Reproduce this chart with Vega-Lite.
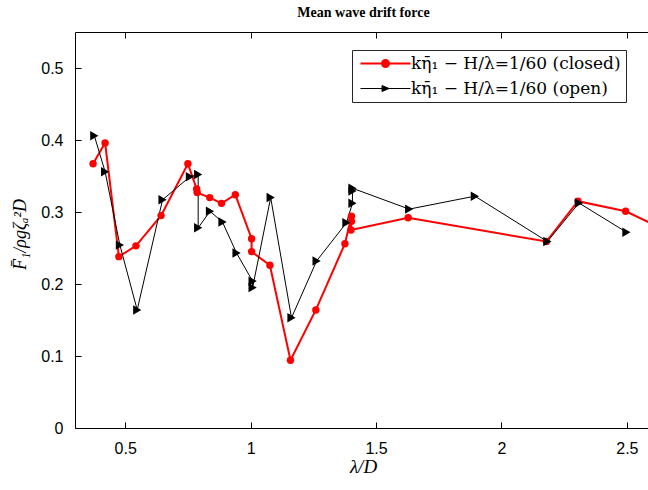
{
  "$schema": "https://vega.github.io/schema/vega-lite/v6.json",
  "width": 573,
  "height": 396,
  "autosize": {"type": "none"},
  "padding": {"left": 75, "top": 32, "right": 0, "bottom": 62},
  "background": "white",
  "title": {"text": "Mean wave drift force", "font": "Liberation Serif", "fontSize": 14, "fontWeight": "bold", "color": "black", "anchor": "middle", "offset": 12, "dx": 2},
  "config": {"view": {"stroke": null}},
  "data": {"values": [
    {"s": "closed", "i": 1, "x": 0.372, "y": 0.367},
    {"s": "closed", "i": 2, "x": 0.420, "y": 0.396},
    {"s": "closed", "i": 3, "x": 0.475, "y": 0.238},
    {"s": "closed", "i": 4, "x": 0.543, "y": 0.253},
    {"s": "closed", "i": 5, "x": 0.643, "y": 0.295},
    {"s": "closed", "i": 6, "x": 0.750, "y": 0.367},
    {"s": "closed", "i": 7, "x": 0.785, "y": 0.332},
    {"s": "closed", "i": 8, "x": 0.787, "y": 0.327},
    {"s": "closed", "i": 9, "x": 0.837, "y": 0.320},
    {"s": "closed", "i": 10, "x": 0.884, "y": 0.312},
    {"s": "closed", "i": 11, "x": 0.939, "y": 0.324},
    {"s": "closed", "i": 12, "x": 1.004, "y": 0.263},
    {"s": "closed", "i": 13, "x": 1.004, "y": 0.245},
    {"s": "closed", "i": 14, "x": 1.077, "y": 0.226},
    {"s": "closed", "i": 15, "x": 1.159, "y": 0.094},
    {"s": "closed", "i": 16, "x": 1.260, "y": 0.164},
    {"s": "closed", "i": 17, "x": 1.376, "y": 0.256},
    {"s": "closed", "i": 18, "x": 1.402, "y": 0.294},
    {"s": "closed", "i": 19, "x": 1.402, "y": 0.287},
    {"s": "closed", "i": 20, "x": 1.400, "y": 0.275},
    {"s": "closed", "i": 21, "x": 1.628, "y": 0.292},
    {"s": "closed", "i": 22, "x": 2.179, "y": 0.259},
    {"s": "closed", "i": 23, "x": 2.305, "y": 0.315},
    {"s": "closed", "i": 24, "x": 2.495, "y": 0.301},
    {"s": "closed", "i": 25, "x": 2.700, "y": 0.267},
    {"s": "open", "i": 1, "x": 0.377, "y": 0.406},
    {"s": "open", "i": 2, "x": 0.420, "y": 0.356},
    {"s": "open", "i": 3, "x": 0.479, "y": 0.254},
    {"s": "open", "i": 4, "x": 0.548, "y": 0.164},
    {"s": "open", "i": 5, "x": 0.649, "y": 0.317},
    {"s": "open", "i": 6, "x": 0.758, "y": 0.349},
    {"s": "open", "i": 7, "x": 0.791, "y": 0.352},
    {"s": "open", "i": 8, "x": 0.791, "y": 0.278},
    {"s": "open", "i": 9, "x": 0.838, "y": 0.301},
    {"s": "open", "i": 10, "x": 0.888, "y": 0.286},
    {"s": "open", "i": 11, "x": 0.944, "y": 0.243},
    {"s": "open", "i": 12, "x": 1.008, "y": 0.204},
    {"s": "open", "i": 13, "x": 1.008, "y": 0.195},
    {"s": "open", "i": 14, "x": 1.080, "y": 0.320},
    {"s": "open", "i": 15, "x": 1.163, "y": 0.153},
    {"s": "open", "i": 16, "x": 1.263, "y": 0.232},
    {"s": "open", "i": 17, "x": 1.382, "y": 0.285},
    {"s": "open", "i": 18, "x": 1.406, "y": 0.312},
    {"s": "open", "i": 19, "x": 1.406, "y": 0.329},
    {"s": "open", "i": 20, "x": 1.406, "y": 0.333},
    {"s": "open", "i": 21, "x": 1.632, "y": 0.304},
    {"s": "open", "i": 22, "x": 1.894, "y": 0.322},
    {"s": "open", "i": 23, "x": 2.183, "y": 0.259},
    {"s": "open", "i": 24, "x": 2.309, "y": 0.3125},
    {"s": "open", "i": 25, "x": 2.498, "y": 0.272}
  ]},
  "layer": [
    {
      "mark": {"type": "line", "clip": true},
      "encoding": {
        "x": {"field": "x", "type": "quantitative",
          "scale": {"domain": [0.3, 2.5841], "nice": false, "zero": false},
          "axis": {"orient": "bottom", "values": [0.5, 1, 1.5, 2, 2.5], "format": "~g", "grid": false,
            "labelFont": "Liberation Sans", "labelFontSize": 16, "labelColor": "black", "labelPadding": 18,
            "tickSize": -6, "tickColor": "black", "domainColor": "black", "labelFlush": false, "labelOverlap": false,
            "title": "λ/D", "titleFont": "Liberation Serif", "titleFontStyle": "italic", "titleFontWeight": "normal",
            "titleFontSize": 19, "titleColor": "black", "titleX": 288, "titleY": 38, "titleAlign": "center", "titleBaseline": "middle"}},
        "y": {"field": "y", "type": "quantitative",
          "scale": {"domain": [0, 0.55], "nice": false},
          "axis": {"orient": "left", "values": [0, 0.1, 0.2, 0.3, 0.4, 0.5], "format": "~g", "grid": false,
            "labelFont": "Liberation Sans", "labelFontSize": 16, "labelColor": "black", "labelPadding": 18,
            "tickSize": -6, "tickColor": "black", "domainColor": "black", "labelFlush": false, "labelOverlap": false,
            "title": "F̄₁/ρgζₐ²D", "titleFont": "Liberation Serif", "titleFontStyle": "italic", "titleFontWeight": "normal",
            "titleFontSize": 18, "titleColor": "black", "titleX": -55, "titleY": 202, "titleAngle": -90, "titleAlign": "center", "titleBaseline": "middle"}},
        "color": {"field": "s", "type": "nominal",
          "scale": {"domain": ["closed", "open"], "range": ["#ff0000", "#000000"]},
          "legend": {"title": null, "orient": "none", "legendX": 277, "legendY": 18, "direction": "vertical",
            "strokeColor": "#262626", "fillColor": "white", "padding": 5,
            "labelFont": "DejaVu Serif", "labelFontSize": 17, "labelColor": "black", "labelLimit": 400,
            "labelExpr": "datum.value === 'closed' ? 'kη̄₁ − H/λ=1/60 (closed)' : 'kη̄₁ − H/λ=1/60 (open)'",
            "symbolSize": 100, "rowPadding": 7, "labelOffset": 37,
            "encode": {"symbols": {"update": {
              "shape": {"signal": "datum.value === 'closed' ? 'M-1,0L9,0M4.7,0A0.7,0.7,0,1,1,3.3,0A0.7,0.7,0,1,1,4.7,0Z' : 'M-1,0L9,0M3.3,-0.6L4.7,0L3.3,0.6Z'"},
              "fill": {"signal": "datum.value === 'closed' ? '#ff0000' : '#000000'"},
              "stroke": {"signal": "datum.value === 'closed' ? '#ff0000' : '#000000'"},
              "strokeWidth": {"signal": "datum.value === 'closed' ? 2 : 1"},
              "opacity": {"value": 1},
              "fillOpacity": {"value": 1}
            }}}}},
        "strokeWidth": {"field": "s", "type": "nominal", "scale": {"domain": ["closed", "open"], "range": [2, 1]}, "legend": null},
        "order": {"field": "i", "type": "quantitative"}
      }
    },
    {
      "transform": [{"filter": "datum.s === 'closed'"}],
      "mark": {"type": "point", "filled": true, "clip": true, "opacity": 1, "shape": "circle", "size": 55, "color": "#ff0000"},
      "encoding": {
        "x": {"field": "x", "type": "quantitative",
          "axis": {"orient": "top", "values": [0.5, 1, 1.5, 2, 2.5], "labels": false, "title": null, "grid": false,
            "tickSize": -6, "tickColor": "black", "domainColor": "black"}},
        "y": {"field": "y", "type": "quantitative", "axis": null}
      }
    },
    {
      "transform": [{"filter": "datum.s === 'open'"}],
      "mark": {"type": "point", "filled": true, "clip": true, "opacity": 1, "shape": "triangle-right", "size": 90, "color": "#000000"},
      "encoding": {
        "x": {"field": "x", "type": "quantitative", "axis": null},
        "y": {"field": "y", "type": "quantitative", "axis": null}
      }
    }
  ],
  "resolve": {"axis": {"x": "independent", "y": "independent"}}
}
